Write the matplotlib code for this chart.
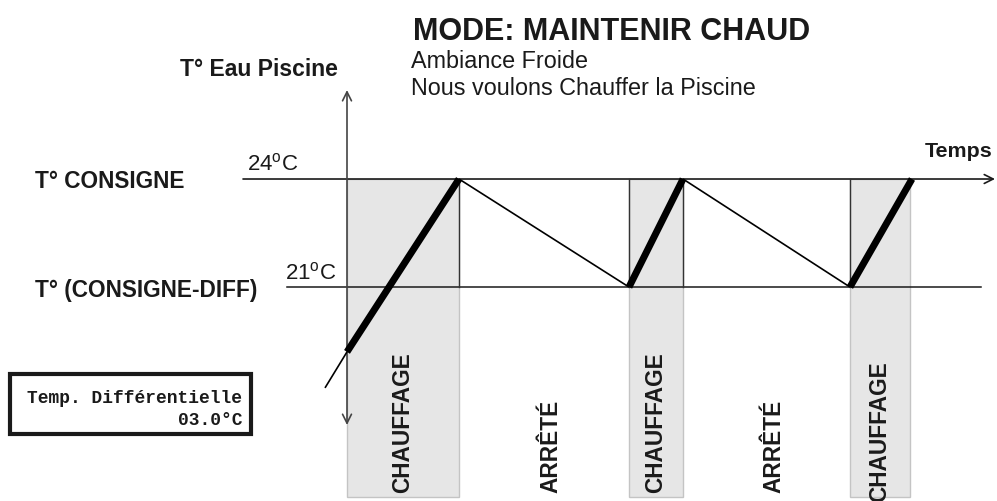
import matplotlib.pyplot as plt
from matplotlib.patches import Rectangle

# ── Config ──────────────────────────────────────────────
W, H = 997, 501
SANS = ["Liberation Sans", "DejaVu Sans"]
MONO = ["Liberation Mono", "DejaVu Sans Mono"]
INK = "#1a1a1a"
BAND = "#e6e6e6"
BAND_EDGE = "#c4c4c4"

plt.rcParams.update({
    "font.family": SANS,
    "mathtext.fontset": "custom",
    "mathtext.rm": "Liberation Sans",
})

# ── Données ─────────────────────────────────────────────
T_CONSIGNE = 24.0
T_DIFF = 3.0
T_BAS = T_CONSIGNE - T_DIFF

# phases de chauffe (début, fin)
chauffe_debut = [0.0, 28.2, 50.3]
chauffe_fin = [11.2, 33.6, 56.3]
# instants de bascule du thermostat
bascules = [11.2, 28.2, 33.6, 50.3]

# courbe de température de l'eau
courbe_t = [-2.2, 0.0, 11.2, 28.2, 33.6, 50.3, 56.5]
courbe_T = [18.2, 19.2, 24.0, 21.0, 24.0, 21.0, 24.0]
segment_chauffe = [False, True, False, True, False, True]

phases = ["CHAUFFAGE", "ARRÊTÉ", "CHAUFFAGE", "ARRÊTÉ", "CHAUFFAGE"]
phase_bornes = [0.0, 11.2, 28.2, 33.6, 50.3, 56.3]


def px(x, y):
    """pixel -> axes fraction"""
    return x / W, 1 - y / H


fig = plt.figure(figsize=(W / 100, H / 100), dpi=100)
ax = fig.add_axes([0, 0, 1, 1])
ax.set_xlim(-34.7, 65.0)
ax.set_ylim(15.06, 28.97)
ax.axis("off")

# bandes grisées de chauffe
for a, b in zip(chauffe_debut, chauffe_fin):
    ax.add_patch(Rectangle((a, 15.17), b - a, T_CONSIGNE - 15.17,
                           facecolor=BAND, edgecolor=BAND_EDGE, lw=1, zorder=1))

# consigne et consigne - diff
ax.annotate("", xy=(64.8, T_CONSIGNE), xytext=(-10.4, T_CONSIGNE),
            arrowprops=dict(arrowstyle="->", color=INK, lw=1.2,
                            mutation_scale=16, shrinkA=0, shrinkB=0), zorder=3)
ax.plot([-6.0, 63.4], [T_BAS, T_BAS], color=INK, lw=1.1, zorder=3)

# axe vertical double flèche
ax.annotate("", xy=(0, 26.47), xytext=(0, 17.17),
            arrowprops=dict(arrowstyle="<->", color="#444444", lw=1.2,
                            mutation_scale=16, shrinkA=0, shrinkB=0), zorder=3)

for t in bascules:
    ax.plot([t, t], [T_BAS, T_CONSIGNE], color="#333333", lw=1.0, zorder=3)

# courbe
for i, chauffe in enumerate(segment_chauffe):
    ax.plot(courbe_t[i:i + 2], courbe_T[i:i + 2], color="black",
            lw=5.0 if chauffe else 1.2, solid_capstyle="butt", zorder=4)

# étiquettes verticales des phases
for k, lab in enumerate(phases):
    xm = (phase_bornes[k] + phase_bornes[k + 1]) / 2
    if lab == "ARRÊTÉ":
        xm += 0.7
    yb = 15.02 if k == 4 else 15.27
    ax.text(xm, yb, lab, rotation=90, ha="center", va="bottom",
            fontsize=16.3, fontweight="bold", color=INK, zorder=5)

# textes
ax.text(*px(413, 40), "MODE: MAINTENIR CHAUD", transform=ax.transAxes,
        fontsize=22, fontweight="bold", color=INK, va="baseline")
ax.text(*px(411, 68), "Ambiance Froide", transform=ax.transAxes,
        fontsize=16.8, color=INK, va="baseline")
ax.text(*px(411, 95), "Nous voulons Chauffer la Piscine", transform=ax.transAxes,
        fontsize=16.8, color=INK, va="baseline")
ax.text(*px(338, 76), "T° Eau Piscine", transform=ax.transAxes, ha="right",
        fontsize=16.5, fontweight="bold", color=INK, va="baseline")
ax.text(*px(992, 157), "Temps", transform=ax.transAxes, ha="right",
        fontsize=15.4, fontweight="bold", color=INK, va="baseline")
ax.text(*px(35, 188), "T° CONSIGNE", transform=ax.transAxes,
        fontsize=16.3, fontweight="bold", color=INK, va="baseline")
ax.text(*px(35, 297), "T° (CONSIGNE-DIFF)", transform=ax.transAxes,
        fontsize=16.3, fontweight="bold", color=INK, va="baseline")
ax.text(*px(247, 170), r"24$^{\mathrm{o}}$C", transform=ax.transAxes,
        fontsize=16, color=INK, va="baseline")
ax.text(*px(285, 279), r"21$^{\mathrm{o}}$C", transform=ax.transAxes,
        fontsize=16, color=INK, va="baseline")

# encadré du différentiel
x0, y0 = px(10, 434)
ax.add_patch(Rectangle((x0, y0), 241 / W, 60 / H, transform=ax.transAxes,
                       facecolor="white", edgecolor=INK, lw=3, zorder=5))
ax.text(*px(242, 403), "Temp. Différentielle", transform=ax.transAxes,
        ha="right", va="baseline", family=MONO, fontweight="bold",
        fontsize=12.9, color=INK, zorder=6)
ax.text(*px(242, 425), f"{T_DIFF:04.1f}°C", transform=ax.transAxes,
        ha="right", va="baseline", family=MONO, fontweight="bold",
        fontsize=12.9, color=INK, zorder=6)

fig.savefig("out.png", dpi=100)
